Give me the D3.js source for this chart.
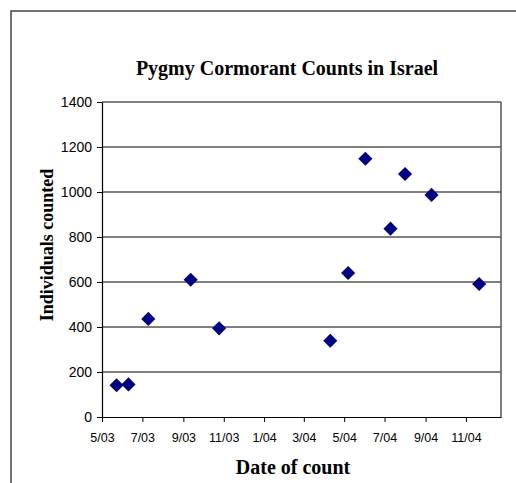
<!DOCTYPE html>
<html><head><meta charset="utf-8">
<script src="https://cdn.jsdelivr.net/npm/d3@7/dist/d3.min.js"></script>
<style>body{margin:0;background:#fff;}svg{display:block;}</style>
</head><body>
<svg id="c" width="516" height="483"></svg>
<script>
const countDates = ["2003-05-23","2003-06-10","2003-07-10","2003-09-12","2003-10-25","2004-04-10","2004-05-07","2004-06-02","2004-07-10","2004-08-01","2004-09-10","2004-11-21"];
const counts = [141,145,436,610,394,339,640,1148,837,1080,987,591];
const yTicks = [0,200,400,600,800,1000,1200,1400];
const xTickLabels = ["5/03","7/03","9/03","11/03","1/04","3/04","5/04","7/04","9/04","11/04"];
const title = "Pygmy Cormorant Counts in Israel";
const xTitle = "Date of count";
const yTitle = "Individuals counted";

const parse = d3.timeParse("%Y-%m-%d");
const data = countDates.map((d,i)=>({date:parse(d), value:counts[i]}));
const svg = d3.select("#c");

// outer chart border (extends beyond window)
svg.append("rect").attr("x",11).attr("y",11).attr("width",520).attr("height",490)
  .attr("fill","none").attr("stroke","#444").attr("stroke-width",1.5);

const L=102, R=501, T=102, B=417;
const x = d3.scaleTime().domain([parse("2003-05-01"), parse("2004-12-24")]).range([L,R]);
const y = d3.scaleLinear().domain([0,1400]).range([B,T]);

// gridlines
svg.append("g").selectAll("line").data(yTicks.filter(v=>v>0)).join("line")
  .attr("x1",L).attr("x2",R).attr("y1",d=>y(d)).attr("y2",d=>y(d))
  .attr("stroke","#000").attr("stroke-width",1);
// right plot border
svg.append("line").attr("x1",R).attr("x2",R).attr("y1",T).attr("y2",B).attr("stroke","#555").attr("stroke-width",1.5);

const xTickDates = xTickLabels.map(s=>{const [m,yy]=s.split("/");return new Date(2000+ +yy, +m-1, 1);});
const xAxis = d3.axisBottom(x).tickValues(xTickDates).tickFormat((d,i)=>xTickLabels[i]).tickSize(5).tickSizeOuter(0);
const gx = svg.append("g").attr("transform",`translate(0,${B})`).call(xAxis);
gx.select(".domain").attr("stroke","#000").attr("stroke-width",1.2);
gx.selectAll("text").attr("font-family","Liberation Sans, Arial, sans-serif").attr("font-size",12.5).attr("fill","#000").attr("y",25).attr("dy",0);

const yAxis = d3.axisLeft(y).tickValues(yTicks).tickFormat(d3.format("d")).tickSize(5).tickSizeOuter(0);
const gy = svg.append("g").attr("transform",`translate(${L},0)`).call(yAxis);
gy.select(".domain").attr("stroke","#000").attr("stroke-width",1.2);
gy.selectAll("text").attr("font-family","Liberation Sans, Arial, sans-serif").attr("font-size",14).attr("fill","#000").attr("dx",-2);

// markers
svg.append("g").selectAll("path").data(data).join("path")
  .attr("d", d3.symbol().type(d3.symbolSquare).size(100))
  .attr("transform", d=>`translate(${x(d.date)},${y(d.value)}) rotate(45)`)
  .attr("fill","#000080");

const serif = "Liberation Serif, Times New Roman, serif";
svg.append("text").attr("x",287).attr("y",75).attr("text-anchor","middle")
  .attr("font-family",serif).attr("font-weight","bold").attr("font-size",20).text(title);
svg.append("text").attr("x",293).attr("y",474).attr("text-anchor","middle")
  .attr("font-family",serif).attr("font-weight","bold").attr("font-size",20).text(xTitle);
svg.append("text").attr("transform","translate(53,245) rotate(-90)").attr("text-anchor","middle")
  .attr("font-family",serif).attr("font-weight","bold").attr("font-size",18).text(yTitle);
</script>
</body></html>
